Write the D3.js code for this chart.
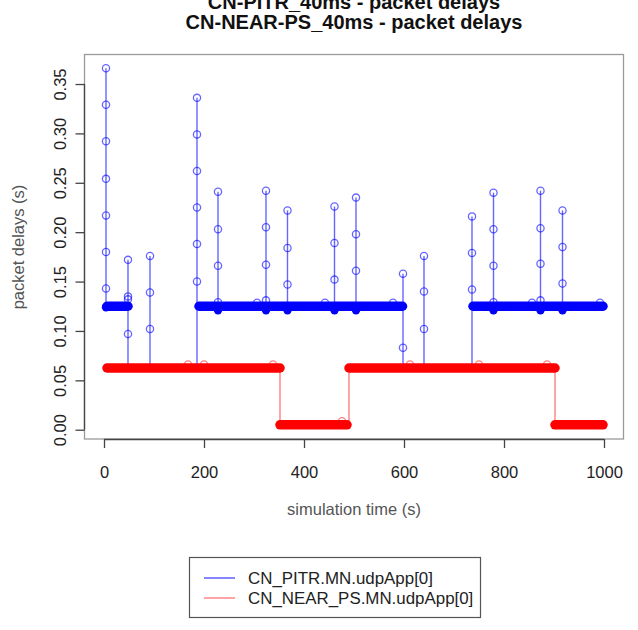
<!DOCTYPE html>
<html><head><meta charset="utf-8">
<script src="https://cdn.jsdelivr.net/npm/d3@7/dist/d3.min.js"></script>
<style>
html,body{margin:0;padding:0;background:#fff;}
svg{display:block;font-family:"Liberation Sans",Arial,Helvetica,sans-serif;}
</style></head>
<body><svg id="c" width="638" height="630"></svg>
<script>
// ---------- data ----------
const titleLines = ["CN-PITR_40ms - packet delays", "CN-NEAR-PS_40ms - packet delays"];
const xLabel = "simulation time (s)";
const yLabel = "packet delays (s)";
const xTicks = [0, 200, 400, 600, 800, 1000];
const yTicks = [0.00, 0.05, 0.10, 0.15, 0.20, 0.25, 0.30, 0.35];
const seriesNames = ["CN_PITR.MN.udpApp[0]", "CN_NEAR_PS.MN.udpApp[0]"];

// CN_PITR: steady-delay segments
const pitrLevelStart = [6, 190, 738];
const pitrLevelEnd = [48, 597, 998];
const pitrLevel = [0.125, 0.125, 0.125];
// CN_PITR: bursts of delayed packets
const pitrSpikeTimes = [4, 48, 92, 186, 228, 324, 367, 461, 504, 598, 640, 736, 779, 873, 917];
const pitrSpikeValues = [
  [0.366, 0.329, 0.292, 0.254, 0.217, 0.180, 0.143],
  [0.172, 0.135, 0.132, 0.097],
  [0.176, 0.139, 0.102],
  [0.336, 0.299, 0.262, 0.225, 0.188, 0.150],
  [0.241, 0.203, 0.166, 0.129],
  [0.242, 0.205, 0.167, 0.131],
  [0.222, 0.184, 0.147],
  [0.226, 0.189, 0.152],
  [0.235, 0.198, 0.161],
  [0.158, 0.083],
  [0.176, 0.140, 0.102],
  [0.216, 0.179, 0.142],
  [0.240, 0.203, 0.166, 0.129],
  [0.242, 0.204, 0.168, 0.131],
  [0.222, 0.185, 0.148]
];
const pitrSpikeBase = [0.125, 0.0625, 0.0625, 0.0625, 0.122, 0.122, 0.122, 0.122, 0.122, 0.0625, 0.0625, 0.0625, 0.122, 0.122, 0.122];
const pitrBumpTimes = [306, 442, 578, 856, 992];
const pitrBumpValues = [0.1285, 0.1285, 0.1285, 0.1285, 0.1285];

// CN_NEAR_PS: steady-delay segments
const nearLevelStart = [6, 352, 490, 902];
const nearLevelEnd = [352, 486, 902, 998];
const nearLevel = [0.0625, 0.005, 0.0625, 0.005];
const nearBumpTimes = [168, 200, 338, 476, 612, 750, 886];
const nearBumpValues = [0.066, 0.066, 0.066, 0.0085, 0.066, 0.066, 0.066];

// ---------- drawing ----------
const svg = d3.select("#c");
const x = d3.scaleLinear().domain([-40, 1040]).range([84, 624]);
const y = d3.scaleLinear().domain([-0.0094, 0.3804]).range([439, 54]);

const blueLine = "rgba(0,0,255,0.6)";
const blueBand = "#0000ff";
const redBand = "#ff0000";
const redLine = "rgba(255,0,0,0.5)";
const R = 3.6;

// plot box
svg.append("rect").attr("x", 84.5).attr("y", 54.5).attr("width", 539).attr("height", 384.5)
  .attr("fill", "none").attr("stroke", "#9a9a9a").attr("stroke-width", 1.3);

const g = svg.append("g");

// PITR spike lines
pitrSpikeTimes.forEach((t, i) => {
  const vals = pitrSpikeValues[i];
  g.append("line").attr("x1", x(t)).attr("x2", x(t))
    .attr("y1", y(d3.max(vals))).attr("y2", y(pitrSpikeBase[i]))
    .attr("stroke", blueLine).attr("stroke-width", 1.4);
});
// PITR circles
pitrSpikeTimes.forEach((t, i) => {
  g.selectAll(null).data(pitrSpikeValues[i]).enter().append("circle")
    .attr("cx", x(t)).attr("cy", d => y(d)).attr("r", R)
    .attr("fill", "none").attr("stroke", blueLine).attr("stroke-width", 1.3);
  if (pitrSpikeBase[i] > 0.1) {
    g.append("circle").attr("cx", x(t)).attr("cy", y(pitrSpikeBase[i]) + 1).attr("r", R + 0.6)
      .attr("fill", blueBand);
  }
});
g.selectAll(null).data(pitrBumpTimes).enter().append("circle")
  .attr("cx", d => x(d)).attr("cy", (d, i) => y(pitrBumpValues[i])).attr("r", R)
  .attr("fill", "none").attr("stroke", blueLine).attr("stroke-width", 1.3);
// PITR bands
pitrLevelStart.forEach((t0, i) => {
  g.append("line").attr("x1", x(t0)).attr("x2", x(pitrLevelEnd[i]))
    .attr("y1", y(pitrLevel[i])).attr("y2", y(pitrLevel[i]))
    .attr("stroke", blueBand).attr("stroke-width", 9.5).attr("stroke-linecap", "round");
});

// NEAR transitions
for (let i = 1; i < nearLevelStart.length; i++) {
  g.append("line").attr("x1", x(nearLevelStart[i])).attr("x2", x(nearLevelStart[i]))
    .attr("y1", y(nearLevel[i - 1])).attr("y2", y(nearLevel[i]))
    .attr("stroke", redLine).attr("stroke-width", 1.4);
}
g.selectAll(null).data(nearBumpTimes).enter().append("circle")
  .attr("cx", d => x(d)).attr("cy", (d, i) => y(nearBumpValues[i])).attr("r", R)
  .attr("fill", "none").attr("stroke", redLine).attr("stroke-width", 1.3);
nearLevelStart.forEach((t0, i) => {
  g.append("line").attr("x1", x(t0)).attr("x2", x(nearLevelEnd[i]))
    .attr("y1", y(nearLevel[i])).attr("y2", y(nearLevel[i]))
    .attr("stroke", redBand).attr("stroke-width", 9.5).attr("stroke-linecap", "round");
});

// axes
const axisColor = "#444";
const xa = svg.append("g").attr("transform", "translate(0,439)")
  .call(d3.axisBottom(x).tickValues(xTicks).tickSize(9).tickPadding(18).tickFormat(d3.format("d")));
xa.select(".domain").remove();
xa.append("line").attr("x1", x(xTicks[0])).attr("x2", x(xTicks[xTicks.length - 1]))
  .attr("y1", 0.5).attr("y2", 0.5).attr("stroke", axisColor).attr("stroke-width", 1.3);
xa.selectAll(".tick line").attr("stroke", axisColor).attr("stroke-width", 1.3);
xa.selectAll(".tick text").attr("fill", "#222").attr("font-size", 16.5).attr("font-family", null);

const ya = svg.append("g").attr("transform", "translate(84.5,0)")
  .call(d3.axisLeft(y).tickValues(yTicks).tickSize(9).tickFormat(d3.format(".2f")));
ya.select(".domain").remove();
ya.append("line").attr("x1", 0).attr("x2", 0)
  .attr("y1", y(yTicks[0])).attr("y2", y(yTicks[yTicks.length - 1]))
  .attr("stroke", axisColor).attr("stroke-width", 1.3);
ya.selectAll(".tick line").attr("stroke", axisColor).attr("stroke-width", 1.3);
ya.selectAll(".tick text").attr("fill", "#222").attr("font-size", 16.5).attr("font-family", null)
  .attr("transform", "rotate(-90)").attr("x", 0).attr("y", -19).attr("dy", 0)
  .attr("text-anchor", "middle");

// axis titles
svg.append("text").attr("x", 354).attr("y", 515).attr("text-anchor", "middle")
  .attr("font-size", 16.5).attr("fill", "#555").text(xLabel);
svg.append("text").attr("transform", "translate(24,247) rotate(-90)").attr("text-anchor", "middle")
  .attr("font-size", 16.5).attr("fill", "#555").text(yLabel);

// title
titleLines.forEach((s, i) => {
  svg.append("text").attr("x", 354).attr("y", 9 + i * 19.5).attr("text-anchor", "middle")
    .attr("font-size", 20).attr("font-weight", "bold").attr("fill", "#111").text(s);
});

// legend
const lg = svg.append("g");
lg.append("rect").attr("x", 189.5).attr("y", 557.5).attr("width", 291).attr("height", 60)
  .attr("fill", "#fff").attr("stroke", "#555").attr("stroke-width", 1.2);
const legColors = ["rgba(0,0,255,0.6)", "rgba(255,0,0,0.45)"];
seriesNames.forEach((s, i) => {
  const yy = 578 + i * 20;
  lg.append("line").attr("x1", 204).attr("x2", 235).attr("y1", yy).attr("y2", yy)
    .attr("stroke", legColors[i]).attr("stroke-width", 1.6);
  lg.append("text").attr("x", 248).attr("y", yy + 6).attr("font-size", 16.9).attr("fill", "#222").text(s);
});
</script></body></html>
